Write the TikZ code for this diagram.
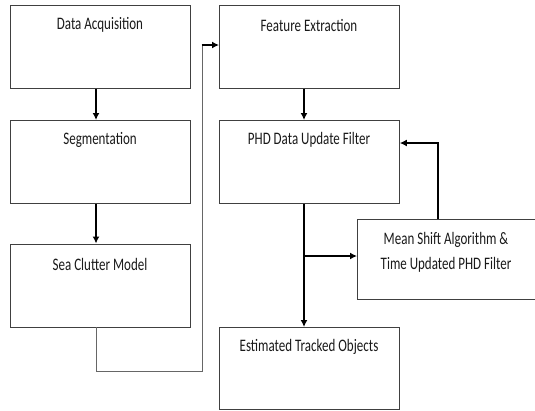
\documentclass[tikz,border=0pt]{standalone}
\usepackage{fontspec}
\setmainfont{Carlito}
\usetikzlibrary{arrows.meta}
\tikzset{
  box/.style={draw=black!75, line width=0.8pt, rectangle, minimum width=180pt, minimum height=83pt, inner sep=0pt, anchor=north west},
  lbl/.style={font=\fontsize{13}{15}\selectfont, text=black!90, anchor=center, yscale=1.35, transform shape},
  arr/.style={line width=1.7pt, -{Latex[length=7pt,width=7pt]}},
  thin/.style={draw=black!60, line width=0.9pt}
}
\begin{document}
\begin{tikzpicture}[x=1pt,y=-1pt]
\useasboundingbox (0,0) rectangle (535,410);
\node[box] (da) at (10,5) {};
\node[box] (seg) at (10,120) {};
\node[box] (sc) at (10,243.5) {};
\node[box] (fe) at (219,5) {};
\node[box] (phd) at (219,120) {};
\node[box, minimum width=177.5pt, minimum height=80pt] (ms) at (357,219) {};
\node[box, minimum height=82pt] (est) at (219,327) {};
\node[lbl] (tda) at (100,24.5) {Data Acquisition};
\node[lbl] (tseg) at (100,140) {Segmentation};
\node[lbl] (tsc) at (100,264) {Sea Clutter Model};
\node[lbl] (tfe) at (309,25) {Feature Extraction};
\node[lbl] (tphd) at (309,140) {PHD Data Update Filter};
\node[lbl] (tms1) at (446,240) {Mean Shift Algorithm \&};
\node[lbl] (tms2) at (446,265) {Time Updated PHD Filter};
\node[lbl] (test) at (309,347) {Estimated Tracked Objects};
\coordinate (c1) at (96,371);
\coordinate (c2) at (202,371);
\coordinate (c3) at (202,45);
\coordinate (br) at (304,256);
\coordinate (m1) at (438,143);
\draw[arr] (da.south -| 96,0) -- (seg.north -| 96,0);
\draw[arr] (seg.south -| 96,0) -- (sc.north -| 96,0);
\draw[thin] (sc.south -| 96,0) -- (c1) -- (c2) -- (c3);
\draw[arr] ([xshift=-0.5pt]c3) -- (fe.west |- c3);
\draw[arr] (fe.south -| 304,0) -- (phd.north -| 304,0);
\draw[arr] (phd.south -| 304,0) -- (est.north -| 304,0);
\draw[arr] (br) -- (ms.west |- br);
\draw[arr] (ms.north -| m1) -- (m1) -- (phd.east |- m1);
\end{tikzpicture}
\end{document}
